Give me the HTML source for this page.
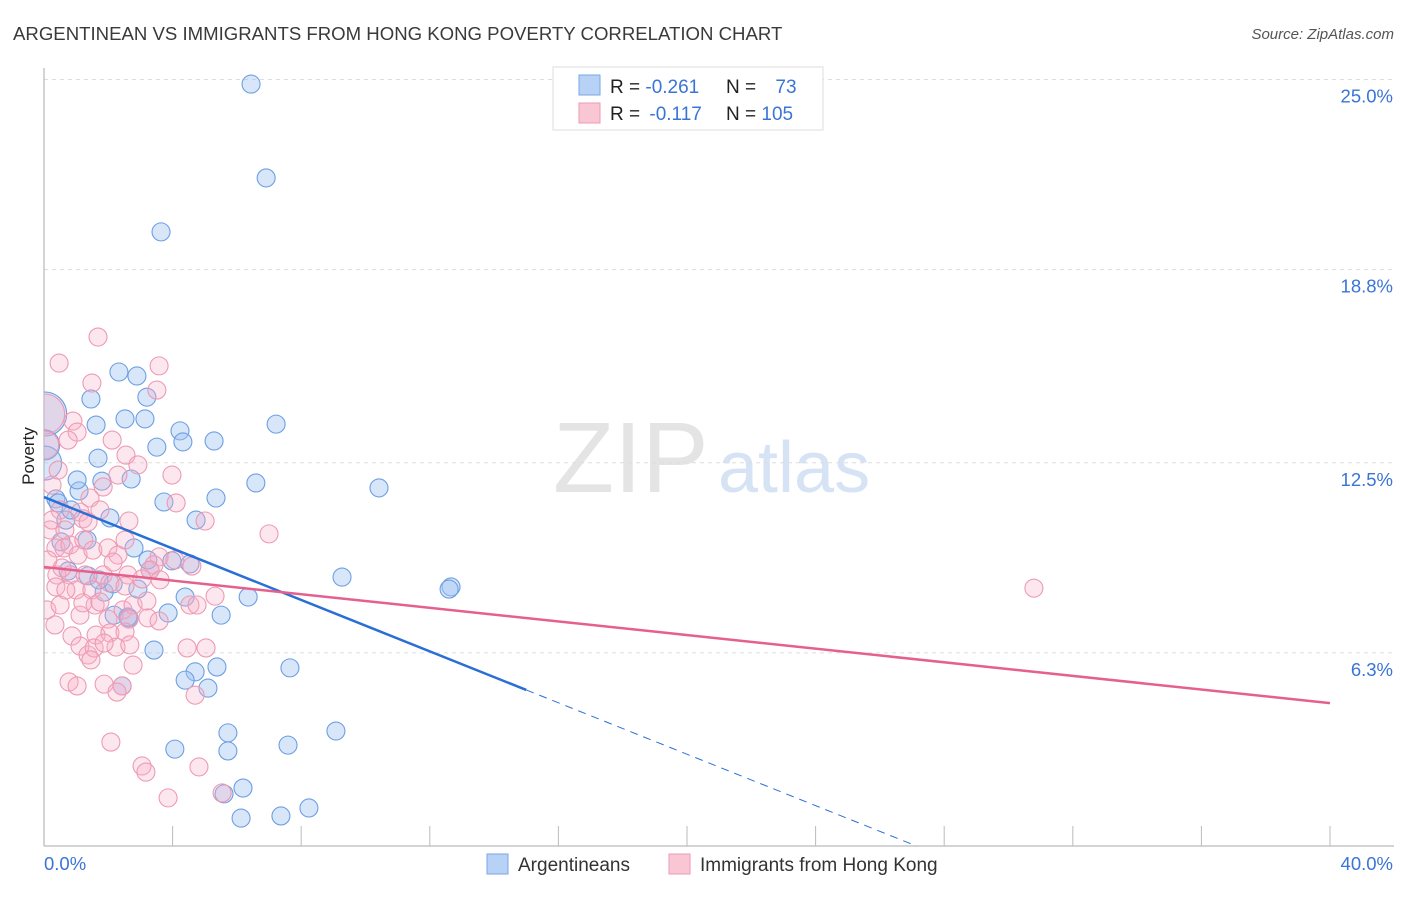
<!DOCTYPE html>
<html><head><meta charset="utf-8"><style>
body{margin:0;background:#fff;font-family:"Liberation Sans",sans-serif;}
svg text{font-family:"Liberation Sans",sans-serif;}
</style></head><body>
<svg id="chart" width="1406" height="892" viewBox="0 0 1406 892" xmlns="http://www.w3.org/2000/svg">
<defs><clipPath id="plotclip"><rect x="44" y="60" width="1360" height="786"/></clipPath></defs>
<text x="13" y="40" font-size="18.6" fill="#3a3a3a">ARGENTINEAN VS IMMIGRANTS FROM HONG KONG POVERTY CORRELATION CHART</text>
<text x="1394" y="39" font-size="15" fill="#555" font-style="italic" text-anchor="end">Source: ZipAtlas.com</text>
<g>
<text x="553" y="492" font-size="100" fill="#e4e4e4" font-family="Liberation Serif,serif">ZIP</text>
<text x="718" y="492" font-size="72" fill="#d6e3f5">atlas</text>
</g>
<g id="grid"></g>
<g id="axes"></g>
<g id="pts" clip-path="url(#plotclip)"></g>
<g id="lines"></g>
<text transform="translate(34,456) rotate(-90)" font-size="17" fill="#222" text-anchor="middle">Poverty</text>
<g>
<rect x="553" y="67" width="270" height="63" fill="#fff" stroke="#ddd"/>
<rect x="579" y="75" width="21" height="20" fill="#b8d2f5" stroke="#7aa6e6"/>
<rect x="579" y="103" width="21" height="20" fill="#f9c6d4" stroke="#ee9ab3"/>
<text x="610" y="93" font-size="19" fill="#222">R = <tspan fill="#3a74d6">-0.261</tspan></text>
<text x="726" y="93" font-size="19" fill="#222">N = <tspan fill="#3a74d6" dx="14">73</tspan></text>
<text x="610" y="120" font-size="19" fill="#222">R = <tspan fill="#3a74d6" dx="4">-0.117</tspan></text>
<text x="726" y="120" font-size="19" fill="#222">N = <tspan fill="#3a74d6">105</tspan></text>
</g>
<g>
<g><rect x="487" y="854" width="21" height="20" fill="#b8d2f5" stroke="#7aa6e6"/><text x="518" y="871" font-size="19" fill="#333">Argentineans</text></g>
<g><rect x="669" y="854" width="21" height="20" fill="#f9c6d4" stroke="#ee9ab3"/><text x="700" y="871" font-size="19" fill="#333">Immigrants from Hong Kong</text></g>
</g>
</svg>
<script>
const yTicks=[25.0,18.8,12.5,6.3];
const yTickLabels=["25.0%","18.8%","12.5%","6.3%"];
const xTickLabels=["0.0%","40.0%"];
const blueX=[6.44,6.91,3.64,2.33,2.89,1.46,3.20,1.62,2.52,3.14,4.23,7.22,3.51,4.32,5.29,0.02,0.02,0.02,1.68,6.59,10.42,0.37,0.44,1.09,1.80,2.71,3.73,5.35,0.68,0.84,2.05,4.73,1.34,2.80,0.53,1.37,0.75,1.87,2.92,2.15,3.30,3.98,4.54,6.35,9.27,12.66,12.60,2.18,2.64,3.86,4.39,5.51,3.42,4.70,4.39,5.10,2.43,7.65,5.38,2.61,5.72,9.08,4.07,5.72,7.59,6.19,5.60,8.24,6.13,7.37,1.71,1.03,3.23];
const blueY=[24.85,21.79,20.03,15.46,15.33,14.58,14.64,13.73,13.93,13.93,13.54,13.76,13.01,13.18,13.21,14.09,13.08,12.49,12.65,11.84,11.68,11.32,11.19,11.58,11.90,11.97,11.22,11.35,10.63,10.96,10.70,10.63,9.98,9.72,9.92,8.81,8.97,8.28,8.38,8.55,9.00,9.30,9.20,8.12,8.77,8.45,8.38,7.53,7.44,7.60,8.12,7.53,6.39,5.68,5.41,5.15,5.22,5.81,5.84,7.47,3.69,3.75,3.16,3.10,3.29,1.89,1.70,1.24,0.91,0.98,8.68,11.94,9.33];
const blueBig=[15,16,17];
const pinkX=[1.68,0.47,3.58,1.49,3.51,0.90,1.03,2.12,2.55,2.92,2.30,0.25,1.84,3.98,4.11,1.43,2.64,5.01,7.00,0.50,1.12,1.74,0.19,0.37,0.62,0.81,1.06,1.24,1.52,1.99,2.30,2.52,3.58,3.42,3.30,4.60,0.40,0.81,0.56,1.28,1.84,2.61,0.37,1.00,1.49,2.05,2.52,3.61,5.32,30.79,1.59,2.46,2.77,3.20,4.54,4.76,1.12,1.99,2.64,3.23,3.58,0.87,1.62,2.05,2.52,1.12,1.37,1.56,2.24,1.46,1.87,2.67,4.45,5.04,2.77,0.78,1.03,1.87,2.43,2.27,4.70,2.08,3.05,3.17,4.82,3.86,5.54,0.34,0.09,0.50,4.07,0.12,0.25,0.65,0.75,0.44,1.74,1.21,2.15,3.05,1.21,1.37,0.68,0.02,0.02];
const pinkY=[16.60,15.75,15.66,15.10,14.87,13.86,13.50,13.24,12.75,12.43,12.10,11.77,11.71,12.10,11.19,11.35,10.60,10.60,10.18,10.96,10.89,10.96,10.31,9.72,9.72,9.82,9.49,9.98,9.65,9.72,9.49,9.98,9.43,9.17,9.00,9.13,8.84,8.84,9.07,8.84,8.84,8.84,8.45,8.35,8.35,8.58,8.48,8.68,8.15,8.41,7.86,7.70,7.86,7.99,7.86,7.86,7.53,7.40,7.40,7.44,7.34,6.85,6.88,6.95,6.98,6.52,6.23,6.46,6.49,6.07,6.62,6.56,6.46,6.46,5.90,5.35,5.22,5.28,5.22,5.02,4.92,3.39,2.61,2.41,2.58,1.57,1.73,7.21,7.70,7.86,9.33,9.33,10.63,10.31,13.24,12.26,7.96,7.93,9.26,8.71,10.67,10.57,8.35,14.09,13.08];
const pinkBig=[103,104];
const blueTrend=[11.38,5.09];
const blueSolidEnd=15;
const pinkTrend=[9.10,4.66];
const NS="http://www.w3.org/2000/svg";
const X0=44,X1=1330,Y0=846,XMAX=40;
const xs=v=>X0+v*(X1-X0)/XMAX;
const ys=v=>Y0-v*30.66;
function mk(t,a,p){const e=document.createElementNS(NS,t);for(const k in a)e.setAttribute(k,a[k]);p.appendChild(e);return e;}
const grid=document.getElementById('grid');
yTicks.forEach((v,i)=>{
 const l=mk('line',{x1:44,x2:1394,y1:ys(v),y2:ys(v),stroke:'#ddd','stroke-dasharray':'4,4'},grid);
 
 
 const t=mk('text',{x:1393,y:ys(v)+23,'font-size':18.5,fill:'#3a74d6','text-anchor':'end'},grid);
 t.textContent=yTickLabels[i];
 
 
});
const ax=document.getElementById('axes');
mk('line',{x1:44,x2:44,y1:68,y2:846,stroke:'#aaa'},ax);
mk('line',{x1:44,x2:1394,y1:846,y2:846,stroke:'#aaa'},ax);
for(let i=1;i<=10;i++){const tk=mk('line',{x1:xs(i*4),x2:xs(i*4),y1:826,y2:846,stroke:'#bbb'},ax);
 
 }
const xl0=mk('text',{x:44,y:870,'font-size':18.5,fill:'#3a74d6'},ax);xl0.textContent=xTickLabels[0];


const xl1=mk('text',{x:1393,y:870,'font-size':18.5,fill:'#3a74d6','text-anchor':'end'},ax);xl1.textContent=xTickLabels[1];


const pts=document.getElementById('pts');
function dots(X,Y,big,fill,stroke,name,bigR){
 X.forEach((x,i)=>{const bi=big.indexOf(i);const r=bi>=0?bigR[bi]:9;
  const c=mk('circle',{cx:xs(x),cy:ys(Y[i]),r:r,fill:fill,stroke:stroke,'stroke-width':1.1},pts);
  
  });
}
dots(blueX,blueY,blueBig,'rgba(160,196,240,0.42)','#6d9fe3','argentineans-point',[22,15,17]);
dots(pinkX,pinkY,pinkBig,'rgba(247,176,198,0.3)','#ee9ab3','hong-kong-point',[20,14]);
const ln=document.getElementById('lines');
const bSlope=(blueTrend[1]-blueTrend[0])/blueSolidEnd;
const b1=mk('line',{x1:xs(0),y1:ys(blueTrend[0]),x2:xs(blueSolidEnd),y2:ys(blueTrend[1]),stroke:'#2a6fd6','stroke-width':2.5},ln);


const xEnd=-blueTrend[0]/bSlope;
const b2=mk('line',{x1:xs(blueSolidEnd),y1:ys(blueTrend[1]),x2:xs(xEnd),y2:ys(0),stroke:'#2a6fd6','stroke-width':1,'stroke-dasharray':'8,6'},ln);


const p1=mk('line',{x1:xs(0),y1:ys(pinkTrend[0]),x2:xs(40),y2:ys(pinkTrend[1]),stroke:'#e5608c','stroke-width':2.5},ln);


</script>
</body></html>
